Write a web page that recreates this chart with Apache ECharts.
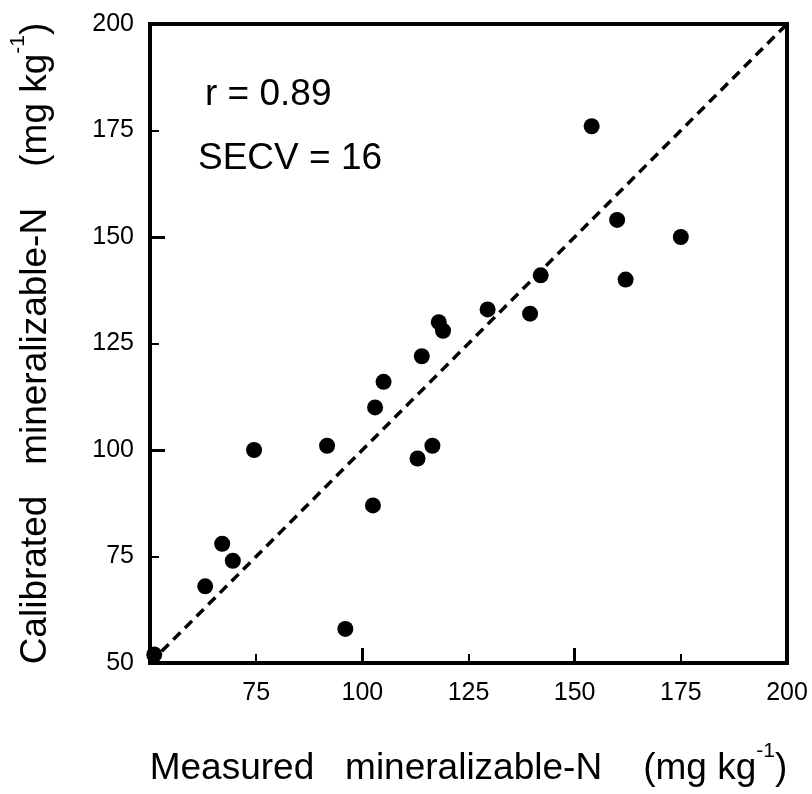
<!DOCTYPE html>
<html>
<head>
<meta charset="utf-8">
<script src="https://cdn.jsdelivr.net/npm/echarts@6/dist/echarts.min.js"></script>
<style>html,body{margin:0;padding:0;background:#fff}#c{width:812px;height:794px}</style>
</head>
<body>
<div id="c"></div>
<script>
const measured   = [51, 63, 67, 69.5, 74.5, 91.7, 96, 102.5, 103, 105, 113, 114, 116.5, 118, 119, 129.5, 139.5, 142, 154, 160, 162, 175];
const calibrated = [52, 68, 78, 74, 100, 101, 58, 87, 110, 116, 98, 122, 101, 130, 128, 133, 132, 141, 176, 154, 140, 150];
const oneToOne = [50, 200];
const axisTicks = [50, 75, 100, 125, 150, 175, 200];
const statsText = ['r = 0.89', 'SECV = 16'];
const xTitle = ['Measured   mineralizable-N    (mg kg', '-1', ')'];
const yTitle = ['Calibrated   mineralizable-N    (mg kg', '-1', ')'];

const font = 'Liberation Sans, Arial, sans-serif';
const pts = measured.map((x, i) => [x, calibrated[i]]);
const minV = axisTicks[0], maxV = axisTicks[axisTicks.length - 1];

const titleRich = {
  t: {fontSize: 37, fontFamily: font, color: '#000', lineHeight: 56},
  s: {fontSize: 21, fontFamily: font, color: '#000', lineHeight: 21, verticalAlign: 'top'}
};
const mkTitle = a => '{t|' + a[0] + '}{s|' + a[1] + '}{t|' + a[2] + '}';

const chart = echarts.init(document.getElementById('c'));
const baseAxis = {
  type: 'value', min: minV, max: maxV, interval: 25,
  axisLine: {show: true, lineStyle: {color: '#000', width: 4}},
  splitLine: {show: false},
  axisTick: {show: true, inside: true, length: 9, lineStyle: {color: '#000', width: 2}},
};
const majorAxis = {
  type: 'value', min: minV, max: maxV, interval: 50,
  axisLine: {show: false}, splitLine: {show: false},
  axisLabel: {show: false},
  axisTick: {show: true, inside: true, length: 15, lineStyle: {color: '#000', width: 3}},
};
chart.setOption({
  animation: false,
  grid: {left: 150, right: 25, top: 24, bottom: 131, show: true, borderColor: '#000', borderWidth: 4, backgroundColor: 'transparent'},
  xAxis: [
    Object.assign({}, baseAxis, {
      position: 'bottom',
      axisLabel: {color: '#000', fontSize: 25, fontFamily: font, margin: 18,
        formatter: v => v === minV ? '' : String(v)},
      name: mkTitle(xTitle),
      nameLocation: 'middle', nameGap: 78,
      nameTextStyle: {rich: titleRich}
    }),
    Object.assign({}, majorAxis, {position: 'bottom'})
  ],
  yAxis: [
    Object.assign({}, baseAxis, {
      position: 'left',
      axisLabel: {color: '#000', fontSize: 25, fontFamily: font, margin: 16},
      name: mkTitle(yTitle),
      nameLocation: 'middle', nameGap: 86, nameRotate: 90,
      nameTextStyle: {rich: titleRich}
    }),
    Object.assign({}, majorAxis, {position: 'left'})
  ],
  series: [
    {
      type: 'line', xAxisIndex: 0, yAxisIndex: 0,
      data: [[oneToOne[0], oneToOne[0]], [oneToOne[1], oneToOne[1]]],
      symbol: 'none', silent: true,
      lineStyle: {color: '#000', width: 3.5, type: [10, 6.5]}
    },
    {
      type: 'scatter', xAxisIndex: 0, yAxisIndex: 0,
      data: pts, symbol: 'circle', symbolSize: 16, clip: false,
      itemStyle: {color: '#000', opacity: 1}
    }
  ],
  graphic: [
    {type: 'text', left: 205, top: 76, style: {text: statsText[0], font: '37px ' + font, fill: '#000'}},
    {type: 'text', left: 198, top: 140, style: {text: statsText[1], font: '37px ' + font, fill: '#000'}}
  ]
});
</script>
</body>
</html>
